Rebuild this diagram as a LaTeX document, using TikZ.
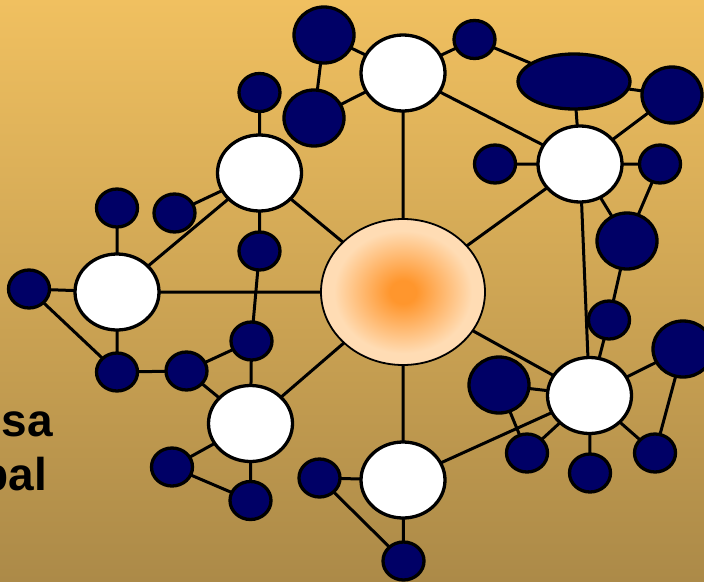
\documentclass[tikz,border=0pt]{standalone}
\usepackage{fontspec}
\setmainfont{Liberation Sans}
\usetikzlibrary{shapes.geometric}
\definecolor{bgtop}{RGB}{240,192,96}
\definecolor{bgbot}{RGB}{172,138,72}
\definecolor{navy}{RGB}{0,0,102}
\definecolor{orangec}{RGB}{255,150,45}
\definecolor{peach}{RGB}{255,220,180}
\pgfdeclareradialshading{hubshade}{\pgfpoint{0bp}{0bp}}{color(0bp)=(orangec); color(4bp)=(orangec); color(21bp)=(peach); color(25bp)=(peach); color(50bp)=(peach)}
\pgfdeclarelayer{bg}
\pgfdeclarelayer{edges}
\pgfsetlayers{bg,edges,main}
\tikzset{
  base/.style={ellipse, inner sep=0pt, outer sep=0pt, draw=black, line width=3.3pt},
  whitenode/.style={base, fill=white, minimum width=84pt, minimum height=76pt},
  smalldark/.style={base, fill=navy, minimum width=41pt, minimum height=38pt},
  bigdark/.style={base, fill=navy, minimum width=60pt, minimum height=56pt},
  hub/.style={ellipse, inner sep=0pt, outer sep=0pt, draw=black, line width=1.8pt, shading=hubshade, minimum width=164pt, minimum height=146pt},
  link/.style={draw=black, line width=3pt},
  lbl/.style={inner sep=0pt, anchor=base east, font=\bfseries\fontsize{46}{50}\selectfont}
}
\begin{document}
\begin{tikzpicture}[x=1pt,y=-1pt]
\useasboundingbox (0,0) rectangle (704,581);
\begin{pgfonlayer}{bg}
\shade[top color=bgtop, bottom color=bgbot] (0,0) rectangle (704,581);
\end{pgfonlayer}

\node[lbl] (t1) at (53,436) {sa};
\node[lbl] (t2) at (47,490) {bal};

\node[hub] (c) at (403,292) {};

\node[whitenode] (wt) at (403,73) {};
\node[whitenode] (wul) at (259.5,173) {};
\node[whitenode] (wl) at (117,292) {};
\node[whitenode] (wll) at (250.5,423.5) {};
\node[whitenode] (wb) at (403,480) {};
\node[whitenode] (wr) at (580,164) {};
\node[whitenode] (wlr) at (589.5,395.5) {};

\node[smalldark] (d1) at (474.5,39.5) {};
\node[smalldark] (d2) at (495,164) {};
\node[smalldark] (d3) at (660,164) {};
\node[smalldark] (d4) at (609,320) {};
\node[smalldark] (d5) at (527,453) {};
\node[smalldark] (d6) at (590,473) {};
\node[smalldark] (d7) at (655,453) {};
\node[smalldark] (d8) at (259.5,92.5) {};
\node[smalldark] (d9) at (117,208) {};
\node[smalldark] (d10) at (174.5,213) {};
\node[smalldark] (d11) at (259.5,251) {};
\node[smalldark] (d12) at (29,289) {};
\node[smalldark] (d13) at (117,372) {};
\node[smalldark] (d14) at (186.5,371) {};
\node[smalldark] (d15) at (251.5,341) {};
\node[smalldark] (d16) at (172,467) {};
\node[smalldark] (d17) at (250.5,500.5) {};
\node[smalldark] (d18) at (319.5,478) {};
\node[smalldark] (d19) at (403.5,561) {};

\node[bigdark] (b1) at (324,35) {};
\node[bigdark] (b2) at (314,118) {};
\node[bigdark] (b3) at (672,95) {};
\node[bigdark] (b4) at (627,241) {};
\node[bigdark] (b5) at (683,349) {};
\node[bigdark] (b6) at (499,385) {};
\node[base, fill=navy, minimum width=112pt, minimum height=55pt] (e) at (574,81.5) {};

\begin{pgfonlayer}{edges}
\path[link] (c.center) -- (wt.center) (c.center) -- (wul.center) (c.center) -- (wl.center)
  (c.center) -- (wll.center) (c.center) -- (wb.center) (c.center) -- (wr.center) (c.center) -- (wlr.center);
\path[link] (wt.center) -- (b1.center) (wt.center) -- (b2.center) (wt.center) -- (d1.center) (wt.center) -- (wr.center);
\path[link] (b1.center) -- (b2.center) (d1.center) -- (e.center);
\path[link] (e.center) -- (wr.center) (e.center) -- (b3.center) (b3.center) -- (wr.center);
\path[link] (wr.center) -- (d2.center) (wr.center) -- (d3.center) (wr.center) -- (b4.center) (wr.center) -- (wlr.center);
\path[link] (d3.center) -- (b4.center) (b4.center) -- (d4.center) (d4.center) -- (wlr.center);
\path[link] (wlr.center) -- (b5.center) (wlr.center) -- (b6.center) (wlr.center) -- (d5.center)
  (wlr.center) -- (d6.center) (wlr.center) -- (d7.center) (wlr.center) -- (wb.center);
\path[link] (b6.center) -- (d5.center) (b5.center) -- (d7.center);
\path[link] (wul.center) -- (d8.center) (wul.center) -- (d10.center) (wul.center) -- (wl.center) (wul.center) -- (d11.center);
\path[link] (d11.center) -- (d15.center);
\path[link] (wl.center) -- (d9.center) (wl.center) -- (d12.center) (wl.center) -- (d13.center);
\path[link] (d12.center) -- (d13.center) (d13.center) -- (d14.center) (d14.center) -- (d15.center)
  (d14.center) -- (wll.center) (d15.center) -- (wll.center);
\path[link] (wll.center) -- (d16.center) (wll.center) -- (d17.center) (d16.center) -- (d17.center);
\path[link] (wb.center) -- (d18.center) (wb.center) -- (d19.center) (d18.center) -- (d19.center);
\end{pgfonlayer}
\end{tikzpicture}
\end{document}
